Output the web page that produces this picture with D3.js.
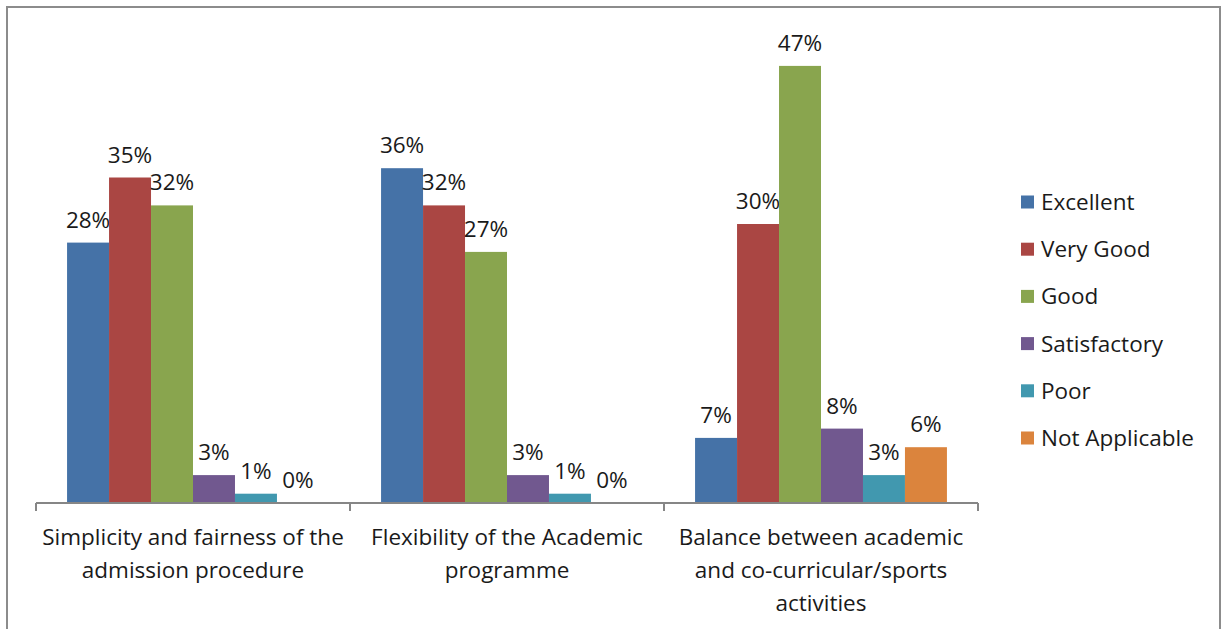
<!DOCTYPE html>
<html>
<head>
<meta charset="utf-8">
<script src="https://cdn.jsdelivr.net/npm/d3@7"></script>
<style>
  body { margin: 0; background: #fff; }
  svg text { font-family: "Open Sans", "Liberation Sans", Arial, sans-serif; fill: #1a1a1a; }
</style>
</head>
<body>
<div id="chart"></div>
<script>
// data
const categories = [
    ['Simplicity and fairness of the', 'admission procedure'],
    ['Flexibility of the Academic', 'programme'],
    ['Balance between academic', 'and co-curricular/sports', 'activities']
];
const seriesNames = ['Excellent', 'Very Good', 'Good', 'Satisfactory', 'Poor', 'Not Applicable'];
const excellent = [28, 36, 7];
const veryGood = [35, 32, 30];
const good = [32, 27, 47];
const satisfactory = [3, 3, 8];
const poor = [1, 1, 3];
const notApplicable = [0, 0, 6];
const seriesValues = [excellent, veryGood, good, satisfactory, poor, notApplicable];
const colors = ['#4572A7', '#AA4643', '#89A54E', '#71588F', '#4198AF', '#DB843D'];

const width = 1222, height = 629;
const plot = { left: 36, right: 978, top: 30, bottom: 503 };
const fontSize = 22.5;

const svg = d3.select('#chart').append('svg')
    .attr('width', width)
    .attr('height', height);

// outer frame
svg.append('rect')
    .attr('x', 7).attr('y', 7)
    .attr('width', 1213).attr('height', 640)
    .attr('fill', 'none')
    .attr('stroke', '#8c8c8c')
    .attr('stroke-width', 2);

const x0 = d3.scaleBand()
    .domain(d3.range(categories.length))
    .range([plot.left, plot.right]);

const x1 = d3.scaleBand()
    .domain(d3.range(seriesNames.length))
    .range([0, x0.bandwidth()])
    .paddingOuter(0.74);

const y = d3.scaleLinear()
    .domain([0, 50])
    .range([plot.bottom, plot.bottom - 50 * 9.3]);

const groups = svg.append('g').selectAll('g')
    .data(seriesValues)
    .join('g')
    .attr('fill', (d, i) => colors[i]);

groups.each(function (vals, si) {
    const g = d3.select(this);
    g.selectAll('rect')
        .data(vals)
        .join('rect')
        .attr('x', (d, ci) => x0(ci) + x1(si))
        .attr('y', d => y(d))
        .attr('width', x1.bandwidth())
        .attr('height', d => y(0) - y(d));
    g.selectAll('text')
        .data(vals)
        .join('text')
        .attr('x', (d, ci) => x0(ci) + x1(si) + x1.bandwidth() / 2)
        .attr('y', d => y(d) - 15)
        .attr('text-anchor', 'middle')
        .attr('font-size', fontSize)
        .text(d => d + '%');
});

// x axis
const axis = svg.append('g')
    .attr('transform', `translate(0,${plot.bottom})`);
axis.append('line')
    .attr('x1', plot.left).attr('x2', plot.right)
    .attr('stroke', '#868686').attr('stroke-width', 2);
axis.selectAll('.tick')
    .data(d3.range(categories.length + 1))
    .join('line')
    .attr('x1', i => i < categories.length ? x0(i) : plot.right)
    .attr('x2', i => i < categories.length ? x0(i) : plot.right)
    .attr('y1', 0).attr('y2', 8)
    .attr('stroke', '#868686').attr('stroke-width', 2);

axis.selectAll('.label')
    .data(categories)
    .join('text')
    .attr('text-anchor', 'middle')
    .attr('font-size', fontSize)
    .each(function (lines, i) {
        d3.select(this).selectAll('tspan')
            .data(lines)
            .join('tspan')
            .attr('x', x0(i) + x0.bandwidth() / 2)
            .attr('y', (d, k) => 42 + k * 33)
            .text(d => d);
    });

// legend
const legend = svg.append('g')
    .attr('transform', 'translate(1021,202)');
const item = legend.selectAll('g')
    .data(seriesNames)
    .join('g')
    .attr('transform', (d, i) => `translate(0,${i * 47.2})`);
item.append('rect')
    .attr('y', -6.5)
    .attr('width', 13).attr('height', 13)
    .attr('fill', (d, i) => colors[i]);
item.append('text')
    .attr('x', 20)
    .attr('y', 8)
    .attr('font-size', fontSize)
    .text(d => d);
</script>
</body>
</html>
